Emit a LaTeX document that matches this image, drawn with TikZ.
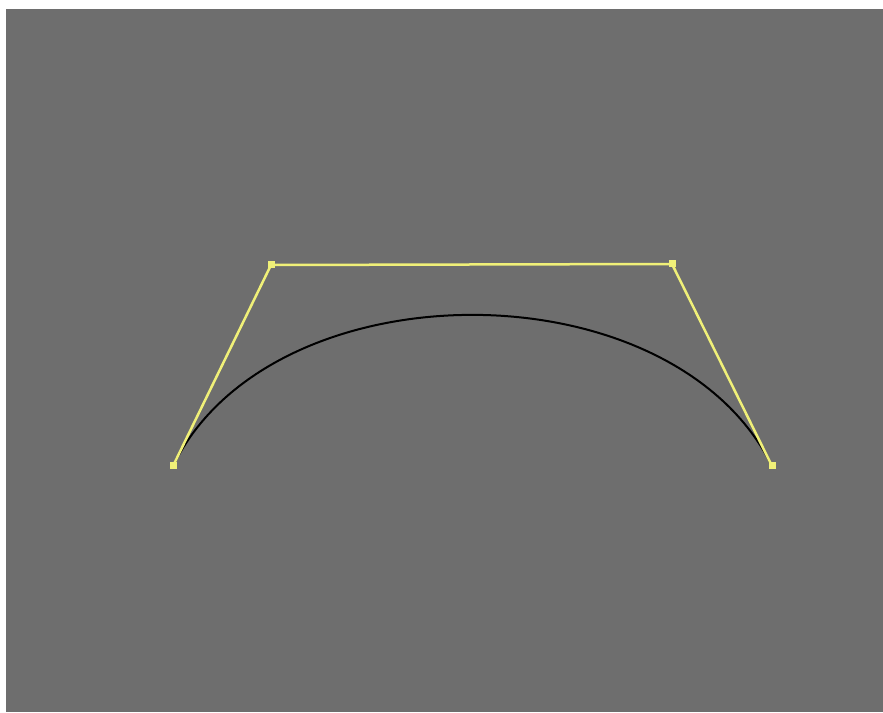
\documentclass[tikz,border=0pt]{standalone}
\definecolor{bggray}{RGB}{110,110,110}
\definecolor{ctrlyellow}{RGB}{240,240,120}
\tikzset{
  ctrlpt/.style={fill=ctrlyellow, draw=none, minimum size=7pt, inner sep=0pt, rectangle},
  polyline/.style={draw=ctrlyellow, line width=2.5pt},
  curveline/.style={draw=black, line width=2pt}
}
\begin{document}
\begin{tikzpicture}[x=1pt,y=1pt]
\useasboundingbox (0,0) rectangle (883,712);
\fill[white] (0,0) rectangle (883,712);
\fill[bggray] (6,0) rectangle (883,703);
\coordinate (p0) at (173,246);
\coordinate (p1) at (271,447);
\coordinate (p2) at (672,448);
\coordinate (p3) at (772,246);
\draw[curveline] (p0) .. controls (p1) and (p2) .. (p3);
\draw[polyline] (p0) -- (p1) -- (p2) -- (p3);
\node[ctrlpt] (n0) at (p0) {};
\node[ctrlpt] (n1) at (p1) {};
\node[ctrlpt] (n2) at (p2) {};
\node[ctrlpt] (n3) at (p3) {};
\end{tikzpicture}
\end{document}
